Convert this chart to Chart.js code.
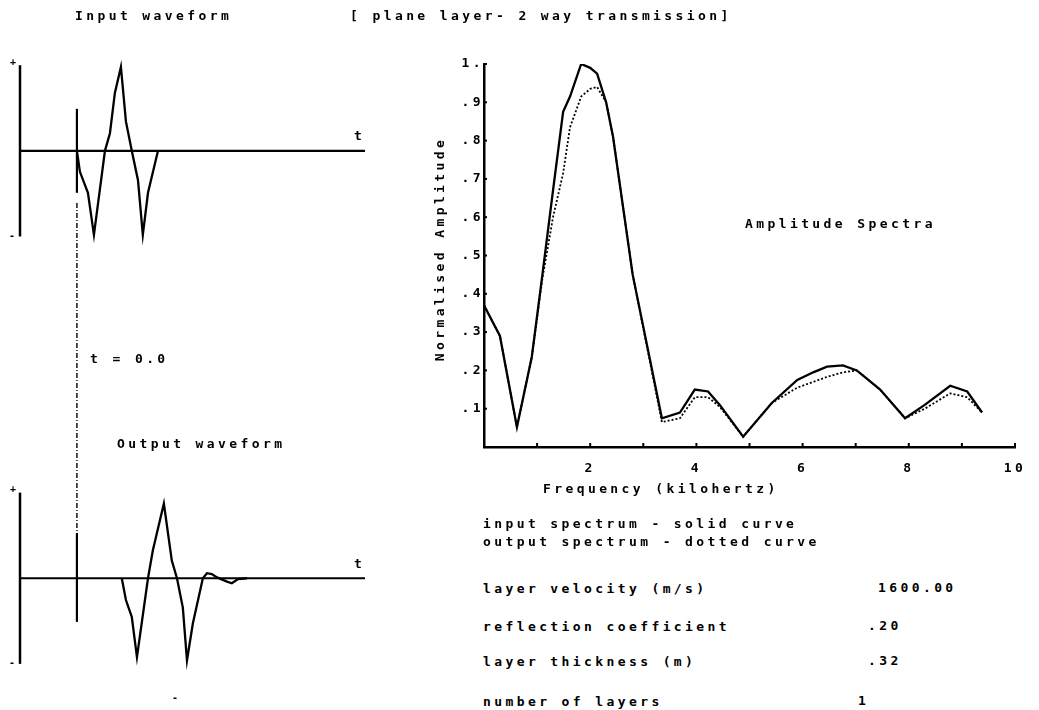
<!DOCTYPE html>
<html>
<head>
<meta charset="utf-8">
<script src="https://cdn.jsdelivr.net/npm/chart.js@4.4.1/dist/chart.umd.min.js"></script>
<style>
  html, body { margin: 0; padding: 0; background: #fff; }
  body { width: 1039px; height: 710px; position: relative; overflow: hidden; }
  canvas { position: absolute; }
  .txt {
    position: absolute; color: #000; white-space: pre;
    font: bold 13px "DejaVu Sans Mono", monospace;
    letter-spacing: 3.4px; line-height: 16px;
  }
</style>
</head>
<body>
<canvas id="wave" width="400" height="710" style="left:0;top:0"></canvas>
<canvas id="spec" width="619" height="480" style="left:420px;top:40px"></canvas>

<div class="txt" style="left:75px;top:8px">Input waveform</div>
<div class="txt" style="left:350px;top:8px">[ plane layer- 2 way transmission]</div>
<div class="txt" style="left:90px;top:351px">t = 0.0</div>
<div class="txt" style="left:117px;top:436px">Output waveform</div>

<div class="txt" style="left:745px;top:216px">Amplitude Spectra</div>
<div class="txt" style="left:290px;top:241px;width:300px;text-align:center;transform:rotate(-90deg)">Normalised Amplitude</div>
<div class="txt" style="left:543px;top:481px">Frequency (kilohertz)</div>
<div class="txt" style="left:483px;top:516px">input spectrum - solid curve</div>
<div class="txt" style="left:483px;top:534px">output spectrum - dotted curve</div>
<div id="params"></div>

<script>
const FAMILY = '"DejaVu Sans Mono", monospace';

// waveforms: time relative to the t = 0.0 marker, amplitude normalised
const inTime = [0, 0.87, 3.19, 4.93, 8.12, 9.57, 11.0, 12.75, 14.2, 15.9, 17.7, 19.1, 20.6, 23.5];
const inAmp = [0, -0.25, -0.5, -1.0, 0, 0.21, 0.69, 1.0, 0.35, 0, -0.35, -1.0, -0.5, 0];
const outTime = [13.0, 14.2, 15.9, 17.4, 20.6, 22.0, 25.2, 27.5, 29.0, 30.7, 31.9, 33.6,
  36.5, 37.7, 39.1, 40.6, 43.5, 44.9, 46.7, 49.3];
const outAmp = [0, -0.26, -0.46, -0.94, 0, 0.33, 0.89, 0.21, 0, -0.35, -0.98, -0.54,
  0, 0.06, 0.05, 0.01, -0.04, -0.06, -0.01, 0];

// amplitude spectra
const freqKHz = [0, 0.3, 0.62, 0.9, 1.1, 1.3, 1.49, 1.62, 1.83, 2.0, 2.13, 2.3, 2.43, 2.8,
  3.35, 3.69, 3.97, 4.22, 4.44, 4.88, 5.42, 5.9, 6.2, 6.46, 6.76, 7.02, 7.46, 7.93,
  8.3, 8.78, 9.1, 9.38];
const inSpec = [0.37, 0.29, 0.052, 0.235, 0.45, 0.67, 0.875, 0.915, 1.0, 0.99, 0.975, 0.9, 0.81, 0.45,
  0.075, 0.09, 0.15, 0.145, 0.11, 0.027, 0.115, 0.175, 0.195, 0.21, 0.213, 0.2, 0.15, 0.075,
  0.11, 0.16, 0.145, 0.09];
const outSpec = [0.37, 0.29, 0.052, 0.235, 0.44, 0.6, 0.715, 0.835, 0.915, 0.935, 0.94, 0.9, 0.81, 0.45,
  0.065, 0.075, 0.13, 0.13, 0.105, 0.027, 0.115, 0.155, 0.17, 0.183, 0.195, 0.2, 0.15, 0.075,
  0.1, 0.14, 0.13, 0.09];

const freqLabels = [2, 4, 6, 8, 10];
const ampLabels = ['', '.1', '.2', '.3', '.4', '.5', '.6', '.7', '.8', '.9', '1.'];

const paramNames = ['layer velocity (m/s)', 'reflection coefficient', 'layer thickness (m)', 'number of layers'];
const paramValues = ['1600.00', '.20', '.32', '1'];

// parameter table
const paramTop = [581, 619, 654, 694];
const paramLeft = [878, 868, 868, 858];
const box = document.getElementById('params');
paramNames.forEach((name, i) => {
  const a = document.createElement('div');
  a.className = 'txt';
  a.style.left = '483px';
  a.style.top = paramTop[i] + 'px';
  a.textContent = name;
  const b = document.createElement('div');
  b.className = 'txt';
  b.style.left = paramLeft[i] + 'px';
  b.style.top = (paramTop[i] - 1) + 'px';
  b.textContent = paramValues[i];
  box.appendChild(a);
  box.appendChild(b);
});

const spacing = {
  id: 'spacing',
  beforeDraw(chart) { chart.ctx.letterSpacing = '3.4px'; }
};

function line(ctx, x0, y0, x1, y1) {
  ctx.beginPath();
  ctx.moveTo(x0, y0);
  ctx.lineTo(x1, y1);
  ctx.stroke();
}

const waveAxes = {
  id: 'waveAxes',
  afterDatasetsDraw(chart) {
    const { ctx, scales: { x, yIn, yOut } } = chart;
    const x0 = x.getPixelForValue(x.min);
    const x1 = x.getPixelForValue(x.max);
    ctx.save();
    ctx.strokeStyle = '#000';
    ctx.fillStyle = '#000';
    ctx.textAlign = 'center';
    ctx.textBaseline = 'middle';
    ctx.letterSpacing = '0px';
    [yIn, yOut].forEach(y => {
      ctx.lineWidth = 2.5;
      line(ctx, x0, y.getPixelForValue(1.02), x0, y.getPixelForValue(-1.02));
      ctx.lineWidth = 2.2;
      line(ctx, x0, y.getPixelForValue(0), x1, y.getPixelForValue(0));
      ctx.font = 'bold 13px ' + FAMILY;
      ctx.fillText('t', x1 - 7, y.getPixelForValue(0) - 14);
      ctx.font = 'bold 10px ' + FAMILY;
      ctx.fillText('+', x0 - 7, y.getPixelForValue(1.02) - 3);
      ctx.fillText('-', x0 - 8, y.getPixelForValue(-1.02));
    });
    ctx.fillText('-', x.getPixelForValue(28.4), yOut.getPixelForValue(-1.43));

    // t = 0 marker running through both panels
    const xm = x.getPixelForValue(0);
    ctx.lineWidth = 2.2;
    line(ctx, xm, yIn.getPixelForValue(0.5), xm, yIn.getPixelForValue(-0.5));
    line(ctx, xm, yOut.getPixelForValue(0.54), xm, yOut.getPixelForValue(-0.52));
    ctx.lineWidth = 1.4;
    ctx.setLineDash([5, 2, 1, 2]);
    line(ctx, xm, yIn.getPixelForValue(-0.62), xm, yOut.getPixelForValue(0.54));
    ctx.restore();
  }
};

const innerTicks = {
  id: 'innerTicks',
  afterDraw(chart) {
    const { ctx, chartArea: a, scales: { x, y } } = chart;
    ctx.save();
    ctx.strokeStyle = '#000';
    ctx.lineWidth = 2;
    x.ticks.forEach(t => {
      if (t.value <= 0) return;
      const px = x.getPixelForValue(t.value);
      line(ctx, px, a.bottom, px, a.bottom - 4);
    });
    y.ticks.forEach(t => {
      if (t.value <= 0) return;
      const py = y.getPixelForValue(t.value);
      line(ctx, a.left, py, a.left + 3, py);
    });
    ctx.restore();
  }
};

const waveLine = { borderColor: '#000', borderWidth: 2.3, pointRadius: 0, tension: 0, fill: false };

new Chart(document.getElementById('wave'), {
  type: 'line',
  data: {
    datasets: [
      Object.assign({ data: inTime.map((t, i) => ({ x: t, y: inAmp[i] })), yAxisID: 'yIn' }, waveLine),
      Object.assign({ data: outTime.map((t, i) => ({ x: t, y: outAmp[i] })), yAxisID: 'yOut' }, waveLine)
    ]
  },
  options: {
    responsive: false,
    animation: false,
    devicePixelRatio: 1,
    layout: { padding: { left: 20, right: 35, top: 40, bottom: 10 } },
    plugins: { legend: { display: false }, tooltip: { enabled: false } },
    scales: {
      x: { type: 'linear', min: -16.5, max: 83.5, display: false },
      yIn: { type: 'linear', min: -6.54, max: 1.32, display: false },
      yOut: { type: 'linear', min: -1.45, max: 6.41, display: false }
    }
  },
  plugins: [spacing, waveAxes]
});

const tickFont = { family: FAMILY, size: 13, weight: 'bold' };

new Chart(document.getElementById('spec'), {
  type: 'line',
  data: {
    datasets: [
      { data: freqKHz.map((f, i) => ({ x: f, y: inSpec[i] })), borderColor: '#000', borderWidth: 2.3,
        pointRadius: 0, tension: 0, order: 0 },
      { data: freqKHz.map((f, i) => ({ x: f, y: outSpec[i] })), borderColor: '#000', borderWidth: 1.8,
        borderDash: [2, 2], pointRadius: 0, tension: 0, order: 1 }
    ]
  },
  options: {
    responsive: false,
    animation: false,
    devicePixelRatio: 1,
    layout: { padding: { top: 24, right: 24, left: 0, bottom: 0 } },
    plugins: { legend: { display: false }, tooltip: { enabled: false } },
    scales: {
      x: {
        type: 'linear', min: 0, max: 10,
        grid: { display: false, drawTicks: false },
        border: { display: true, color: '#000', width: 2.5 },
        ticks: {
          stepSize: 1, autoSkip: false, maxRotation: 0, padding: 14, color: '#000', font: tickFont,
          callback: v => freqLabels.includes(v) ? String(v) : ''
        },
        afterFit: s => { s.height = 73; }
      },
      y: {
        min: 0, max: 1,
        grid: { display: false, drawTicks: false },
        border: { display: true, color: '#000', width: 2.5 },
        ticks: {
          stepSize: 0.1, autoSkip: false, padding: 0, color: '#000', font: tickFont,
          callback: v => ampLabels[Math.round(v * 10)]
        },
        afterFit: s => { s.width = 64; }
      }
    }
  },
  plugins: [spacing, innerTicks]
});
</script>
</body>
</html>
